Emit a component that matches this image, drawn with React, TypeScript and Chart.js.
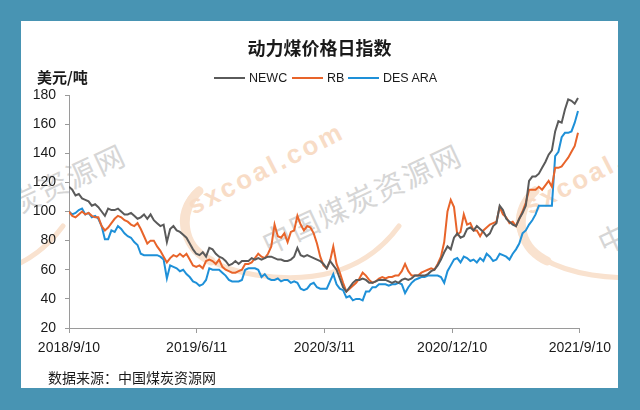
import React, { useEffect, useRef } from "react";
import { Chart, registerables } from "chart.js";

Chart.register(...registerables);

// ---- data ----
const stepDays = 7; // one reading per week, starting 2018/9/10
const xMaxDays = 1096;
const xTickDays = [0, 274, 548, 822, 1096];
const xTickLabels = ["2018/9/10", "2019/6/11", "2020/3/11", "2020/12/10", "2021/9/10"];
const yMin = 20;
const yMax = 180;
const yStep = 20;

const seriesNames = ["NEWC", "RB", "DES ARA"];
const seriesColors = ["#5a5a5a", "#e8642a", "#1e90d8"];

const newc = [
  117, 115, 111, 112, 109, 108, 107, 104, 105, 103, 100, 97, 102, 101, 101, 102, 100, 98, 98, 99,
  97, 95, 96, 98, 95, 98, 94, 92, 90, 91, 79, 88, 90, 87, 86, 84, 82, 78, 74, 71,
  70, 72, 69, 75, 74, 71, 69, 68, 66, 63, 64, 66, 64, 66, 66, 66, 68, 67, 68, 67,
  68, 69, 69, 68, 67, 67, 66, 66, 67, 69, 75, 70, 69, 70, 69, 68, 67, 66,
  64, 61, 66, 63, 60, 54, 48, 45, 48, 51, 53, 53, 54, 53, 51, 51, 52, 53, 53, 53,
  52, 51, 52, 51, 53, 54, 53, 54, 56, 56, 56, 56, 57, 59, 60, 63, 67, 72, 76,
  74, 82, 85, 82, 83, 88, 89, 87, 90, 88, 86, 83, 85, 90, 92, 104, 101, 95, 93, 91,
  90, 95, 99, 104, 121, 124, 124, 126, 130, 134, 139, 142, 155, 162, 161, 170, 177, 176, 174, 178,
];

const rb = [
  100, 97, 96, 98, 100, 98, 99, 97, 96, 96, 90, 87, 89, 92, 95, 97, 96, 94, 93, 91,
  90, 92, 88, 83, 78, 80, 80, 76, 73, 69, 65, 68, 70, 69, 71, 69, 71, 67, 63, 62,
  63, 61, 66, 67, 66, 64, 67, 62, 60, 59, 58, 58, 59, 60, 64, 64, 65, 68, 71, 69,
  68, 71, 76, 91, 83, 82, 85, 79, 86, 87, 97, 91, 87, 90, 89, 85, 78, 69,
  63, 61, 66, 76, 64, 58, 51, 45, 47, 49, 51, 54, 58, 56, 53, 51, 52, 54, 55, 54,
  55, 55, 56, 56, 59, 64, 59, 56, 56, 56, 58, 59, 60, 61, 60, 64, 69, 79, 100,
  108, 103, 84, 86, 98, 91, 92, 87, 87, 83, 87, 89, 91, 92, 93, 103, 98, 96, 92, 93,
  90, 95, 100, 106, 115, 115, 115, 117, 115, 118, 121, 117, 130, 130, 131, 134, 137, 141, 145, 154,
];

const desAra = [
  100, 98, 99, 101, 102, 98, 99, 96, 97, 95, 90, 81, 81, 87, 86, 90, 88, 85, 83, 82,
  79, 77, 71, 70, 70, 70, 70, 70, 69, 67, 54, 63, 62, 61, 59, 60, 57, 55, 52, 51,
  49, 50, 53, 61, 60, 60, 60, 58, 56, 53, 52, 52, 52, 53, 60, 61, 61, 61, 60, 55,
  57, 54, 53, 53, 54, 52, 53, 53, 51, 52, 51, 47, 46, 47, 50, 51, 48, 47,
  47, 47, 52, 57, 50, 47, 46, 41, 42, 39, 40, 40, 39, 45, 45, 48, 48, 50, 50, 50,
  49, 50, 50, 51, 50, 44, 48, 51, 53, 54, 55, 55, 56, 56, 56, 56, 55, 51, 59,
  63, 67, 68, 65, 69, 68, 66, 67, 65, 68, 66, 71, 69, 66, 67, 71, 70, 69, 67, 71,
  74, 78, 85, 87, 91, 94, 98, 104, 104, 104, 104, 104, 138, 141, 151, 154, 154, 155, 161, 169,
];

const titleText = "动力煤价格日指数";
const unitText = "美元/吨";
const sourceText = "数据来源：中国煤炭资源网";
const watermarkEn = "sxcoal.com";
const watermarkCn = "中国煤炭资源网";

const seriesValues = [newc, rb, desAra];

const LATIN = '"Liberation Sans", Arial, sans-serif';
const CJK = '"Noto Sans CJK SC", "Liberation Sans", sans-serif';

function ChartCanvas() {
  const ref = useRef<HTMLCanvasElement | null>(null);
  useEffect(() => {
    const canvas = ref.current;
    if (!canvas) return;
    const axisColor = "#9a9a9a";
    const chart = new Chart(canvas, {
      type: "line",
      data: {
        datasets: seriesNames.map((name, s) => ({
          label: name,
          data: seriesValues[s].map((v, i) => ({ x: Math.min(i * stepDays, xMaxDays), y: v })),
          borderColor: seriesColors[s],
          backgroundColor: seriesColors[s],
          borderWidth: 2,
          pointRadius: 0,
          tension: 0,
          fill: false,
        })),
      },
      options: {
        responsive: false,
        animation: false,
        events: [],
        layout: { padding: { left: 0, top: 74, right: 36, bottom: 0 } },
        plugins: {
          legend: { display: false },
          title: { display: false },
          tooltip: { enabled: false },
        },
        scales: {
          x: {
            type: "linear",
            min: 0,
            max: xMaxDays,
            afterBuildTicks: (scale: any) => {
              scale.ticks = xTickDays.map((v) => ({ value: v }));
            },
            afterFit: (scale: any) => {
              scale.height = 60;
            },
            ticks: {
              autoSkip: false,
              maxRotation: 0,
              minRotation: 0,
              padding: 7,
              color: "#1a1a1a",
              font: { family: LATIN, size: 14 },
              callback: (value: any) => {
                const idx = xTickDays.indexOf(Number(value));
                return idx >= 0 ? xTickLabels[idx] : "";
              },
            },
            grid: {
              display: true,
              drawOnChartArea: false,
              drawTicks: true,
              tickLength: 5,
              color: axisColor,
            },
            border: { display: true, color: axisColor, width: 1 },
          },
          y: {
            min: yMin,
            max: yMax,
            afterFit: (scale: any) => {
              scale.width = 48;
            },
            ticks: {
              stepSize: yStep,
              padding: 9,
              color: "#1a1a1a",
              font: { family: LATIN, size: 14 },
            },
            grid: {
              display: true,
              drawOnChartArea: false,
              drawTicks: true,
              tickLength: 4,
              color: axisColor,
            },
            border: { display: true, color: axisColor, width: 1 },
          },
        },
      },
    });
    return () => chart.destroy();
  }, []);
  return (
    <canvas
      ref={ref}
      width={597}
      height={367}
      style={{ position: "absolute", left: 0, top: 0, width: 597, height: 367 }}
    />
  );
}

function Watermark({ dx }: { dx: number }) {
  return (
    <div style={{ position: "absolute", left: dx, top: 0, width: 597, height: 367, pointerEvents: "none" }}>
      <svg width={597} height={367} style={{ position: "absolute", left: 0, top: 0 }}>
        <path
          d="M 178 168 C 150 190, 150 240, 235 254 C 295 263, 345 250, 378 205"
          stroke="#f9e2cf"
          strokeWidth={5}
          fill="none"
          strokeLinecap="round"
        />
        <path
          d="M 178 170 C 158 188, 158 225, 190 240"
          stroke="#f9e2cf"
          strokeWidth={9}
          fill="none"
          strokeLinecap="round"
        />
      </svg>
      <div
        style={{
          position: "absolute",
          left: 266 - 21 - 100,
          top: 168 - 21 - 20,
          width: 200,
          height: 40,
          lineHeight: "40px",
          textAlign: "center",
          transform: "rotate(-27deg)",
          fontFamily: LATIN,
          fontWeight: 700,
          fontSize: 26,
          letterSpacing: 3,
          color: "#f8dcc6",
          whiteSpace: "nowrap",
        }}
      >
        {watermarkEn}
      </div>
      <div
        style={{
          position: "absolute",
          left: 361 - 21 - 130,
          top: 197 - 21 - 20,
          width: 260,
          height: 40,
          lineHeight: "40px",
          textAlign: "center",
          transform: "rotate(-25deg)",
          fontFamily: CJK,
          fontSize: 29,
          letterSpacing: 2,
          color: "#d6d6d6",
          whiteSpace: "nowrap",
        }}
      >
        {watermarkCn}
      </div>
    </div>
  );
}

export default function App() {
  return (
    <div
      style={{
        position: "fixed",
        left: 0,
        top: 0,
        width: 640,
        height: 410,
        background: "#4894b3",
        overflow: "hidden",
      }}
    >
      <div
        style={{
          position: "absolute",
          left: 21,
          top: 21,
          width: 597,
          height: 367,
          background: "#ffffff",
          overflow: "hidden",
        }}
      >
        <Watermark dx={-336} />
        <Watermark dx={0} />
        <Watermark dx={336} />
        <ChartCanvas />
        <div
          style={{
            position: "absolute",
            left: 0,
            top: 14,
            width: 597,
            textAlign: "center",
            fontFamily: CJK,
            fontWeight: 700,
            fontSize: 18,
            lineHeight: "24px",
            color: "#1a1a1a",
          }}
        >
          {titleText}
        </div>
        <div
          style={{
            position: "absolute",
            left: 16,
            top: 46,
            fontFamily: CJK,
            fontWeight: 700,
            fontSize: 15,
            lineHeight: "20px",
            color: "#1a1a1a",
          }}
        >
          {unitText}
        </div>
        {seriesNames.map((name, s) => {
          const lefts = [193, 271, 327];
          return (
            <div
              key={name}
              style={{
                position: "absolute",
                left: lefts[s],
                top: 47,
                height: 20,
                display: "flex",
                alignItems: "center",
                fontFamily: LATIN,
                fontSize: 12.5,
                color: "#1a1a1a",
                whiteSpace: "nowrap",
              }}
            >
              <span style={{ display: "inline-block", width: 31, height: 2, background: seriesColors[s], marginRight: 4 }} />
              <span>{name}</span>
            </div>
          );
        })}
        <div
          style={{
            position: "absolute",
            left: 27,
            top: 346,
            fontFamily: CJK,
            fontSize: 14,
            lineHeight: "20px",
            color: "#1a1a1a",
            whiteSpace: "nowrap",
          }}
        >
          {sourceText}
        </div>
      </div>
    </div>
  );
}
